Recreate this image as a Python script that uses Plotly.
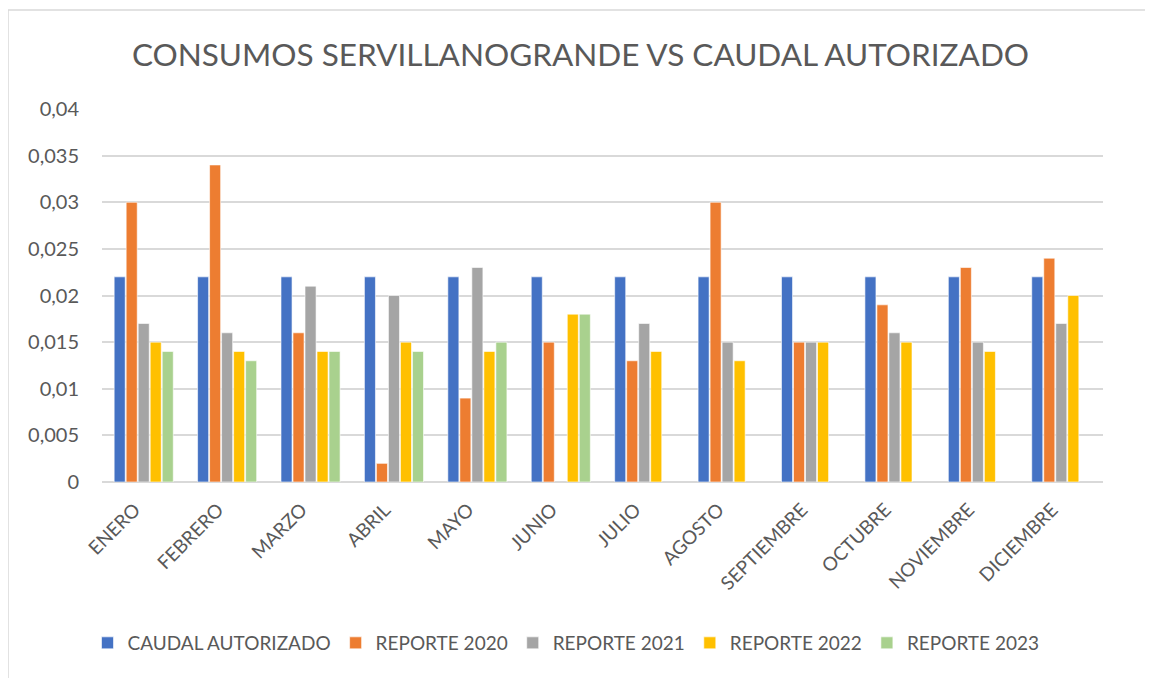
import plotly.graph_objects as go

months = ["ENERO", "FEBRERO", "MARZO", "ABRIL", "MAYO", "JUNIO", "JULIO",
          "AGOSTO", "SEPTIEMBRE", "OCTUBRE", "NOVIEMBRE", "DICIEMBRE"]

caudal = [0.022] * 12
rep2020 = [0.030, 0.034, 0.016, 0.002, 0.009, 0.015, 0.013, 0.030, 0.015, 0.019, 0.023, 0.024]
rep2021 = [0.017, 0.016, 0.021, 0.020, 0.023, None, 0.017, 0.015, 0.015, 0.016, 0.015, 0.017]
rep2022 = [0.015, 0.014, 0.014, 0.015, 0.014, 0.018, 0.014, 0.013, 0.015, 0.015, 0.014, 0.020]
rep2023 = [0.014, 0.013, 0.014, 0.014, 0.015, 0.018, None, None, None, None, None, None]

series_names = ["CAUDAL AUTORIZADO", "REPORTE 2020", "REPORTE 2021", "REPORTE 2022", "REPORTE 2023"]
series_vals = [caudal, rep2020, rep2021, rep2022, rep2023]
colors = ["#4472C4", "#ED7D31", "#A5A5A5", "#FFC000", "#A9D18E"]

FONT = "Lato"
TXT = "#595959"

fig = go.Figure()
for name, vals, col in zip(series_names, series_vals, colors):
    fig.add_trace(go.Bar(
        x=months, y=vals, name=name,
        marker=dict(color=col, line=dict(color="white", width=0.6)),
    ))

# page has an 8px body margin; figure pixel = window pixel - 8
OFF = 8
W, H = 1153 - OFF, 678 - OFF
PL, PR, PT, PB = 102, 1103, 109, 482          # plot area in window px
L, R, T, B = PL - OFF, 1153 - PR, PT - OFF, 678 - PB
pw, ph = PR - PL, PB - PT

def px2x(px):
    return (px - PL) / pw

def py2y(py):
    return (PB - py) / ph

fig.update_layout(
    width=W, height=H,
    margin=dict(l=L, r=R, t=T, b=B),
    paper_bgcolor="white", plot_bgcolor="white",
    separators=",.",
    barmode="group", bargap=0.28, bargroupgap=0.08,
    font=dict(family=FONT, color=TXT, size=19),
    title=dict(text="CONSUMOS SERVILLANOGRANDE VS CAUDAL AUTORIZADO",
               x=0.5, xanchor="center", y=1 - (55 - OFF) / H, yanchor="middle",
               font=dict(family=FONT, size=31.5, color=TXT)),
    xaxis=dict(tickangle=-45, showgrid=False, showline=False, ticks="",
               ticklabelstandoff=12, ticklabelshift=-9,
               tickfont=dict(size=19, color=TXT)),
    yaxis=dict(range=[0, 0.04], dtick=0.005, tickformat="~g",
               showgrid=True, gridcolor="#D9D9D9", gridwidth=1.5,
               zeroline=True, zerolinecolor="#D9D9D9", zerolinewidth=1.5,
               showline=False, ticks="", ticklabelstandoff=22,
               tickfont=dict(size=20, color=TXT)),
    legend=dict(orientation="h", x=px2x(566), xanchor="center",
                y=py2y(643), yanchor="middle",
                font=dict(size=19, color=TXT),
                traceorder="normal"),
    showlegend=True,
)

# chart frame border (light gray)
fig.add_shape(type="rect", xref="paper", yref="paper",
              x0=px2x(8), x1=px2x(1170), y0=py2y(700), y1=py2y(10),
              line=dict(color="#D9D9D9", width=1.5), fillcolor="rgba(0,0,0,0)",
              layer="below")

fig.write_html("out.html")
